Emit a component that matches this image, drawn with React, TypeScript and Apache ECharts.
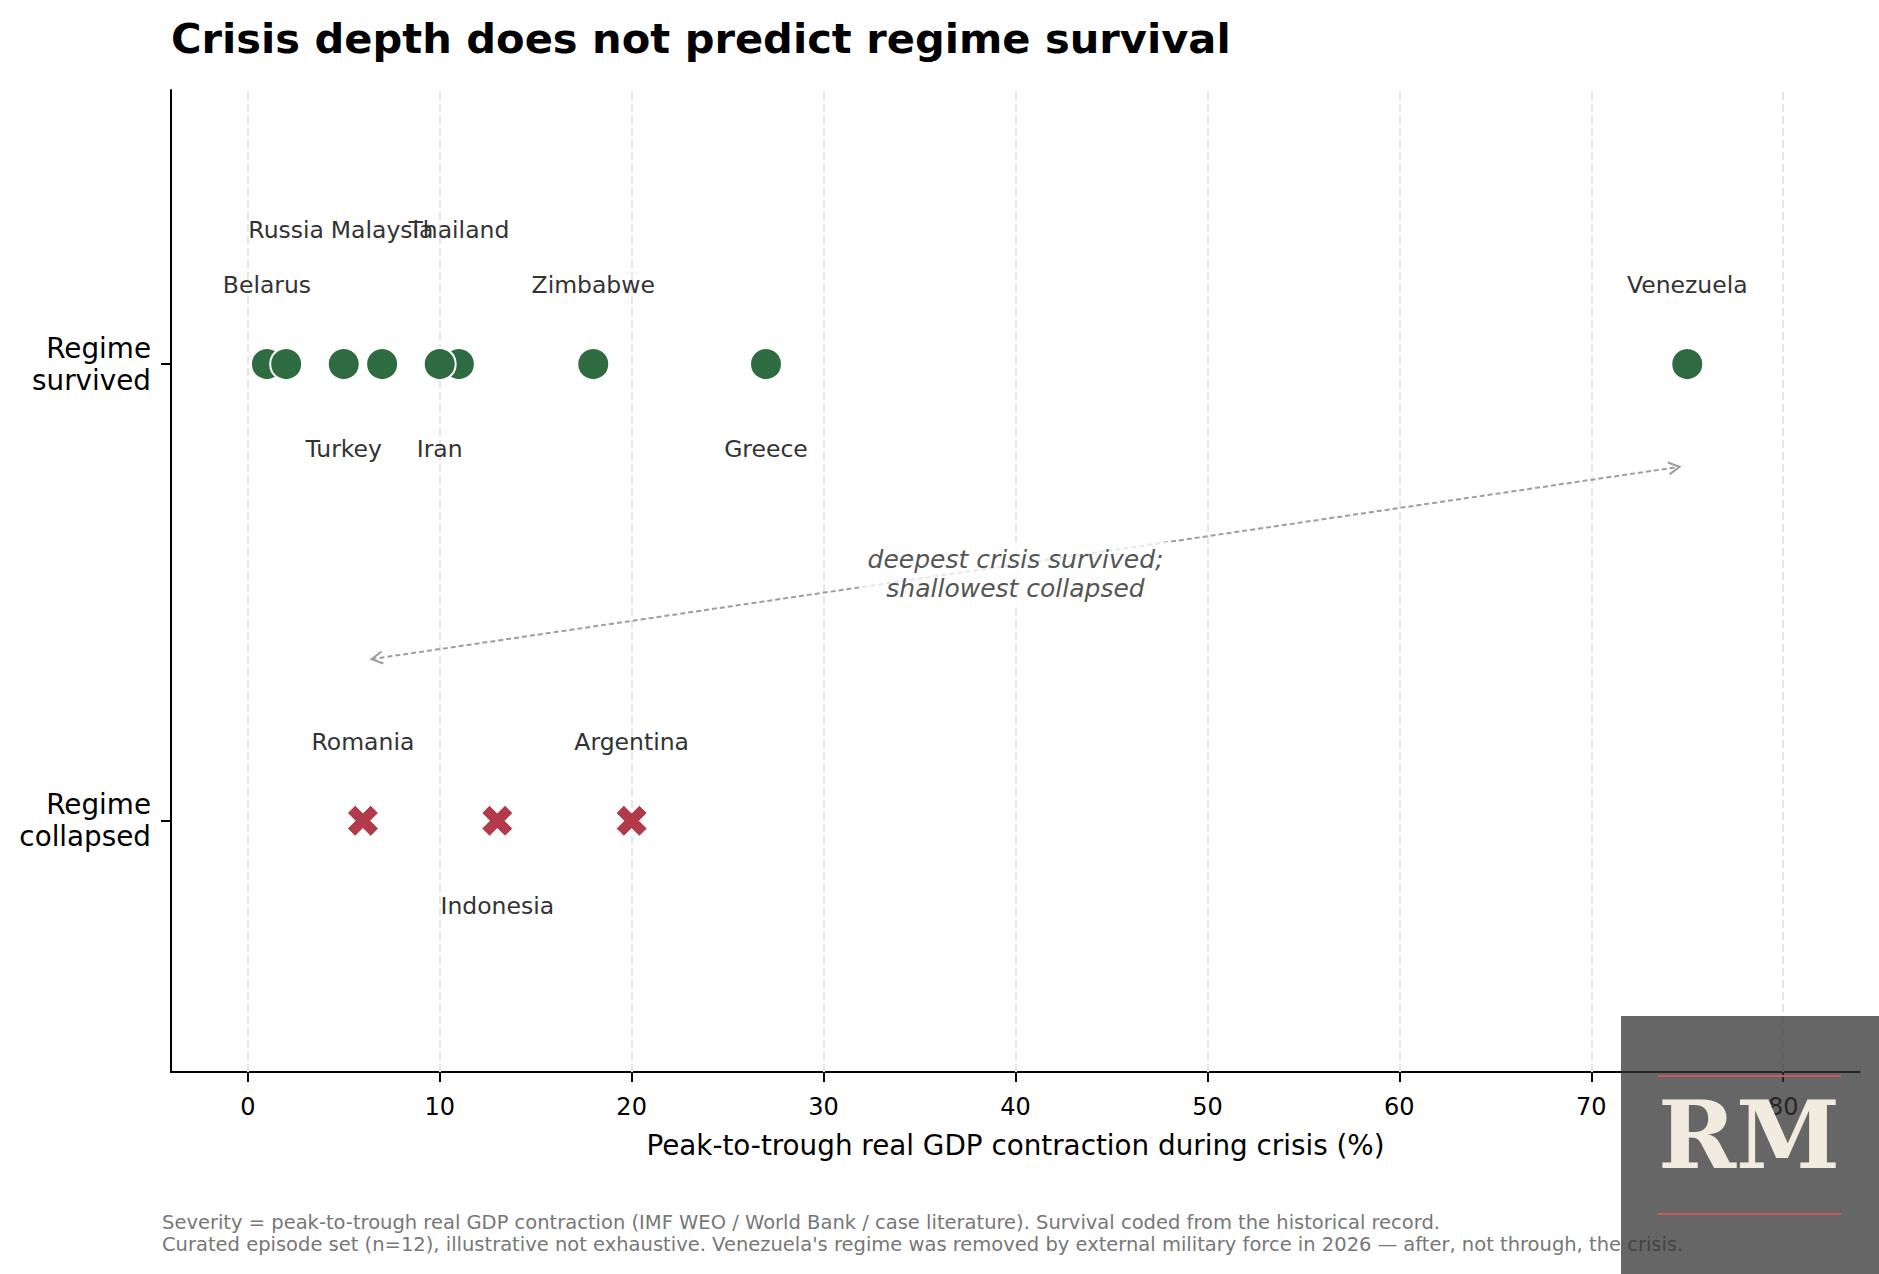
import React, { useEffect, useRef } from 'react';
import * as echarts from 'echarts';

// episodes where the regime survived (draw order as in the source)
const survivedNames = ['Belarus', 'Russia', 'Turkey', 'Malaysia', 'Thailand', 'Iran', 'Zimbabwe', 'Greece', 'Venezuela'];
const survivedDepth = [1, 2, 5, 7, 11, 10, 18, 27, 75];
const survivedLabelRow = ['near', 'far', 'below', 'far', 'far', 'below', 'near', 'below', 'near'];

// episodes where the regime collapsed
const collapsedNames = ['Romania', 'Indonesia', 'Argentina'];
const collapsedDepth = [6, 13, 20];
const collapsedLabelRow = ['near', 'below', 'near'];

const xTicks = [0, 10, 20, 30, 40, 50, 60, 70, 80];
const yTicks = [0, 1];
const yTickLabels = ['Regime\ncollapsed', 'Regime\nsurvived'];

const noteText = 'deepest crisis survived;\nshallowest collapsed';
const footLines = [
  'Severity = peak-to-trough real GDP contraction (IMF WEO / World Bank / case literature). Survival coded from the historical record.',
  "Curated episode set (n=12), illustrative not exhaustive. Venezuela's regime was removed by external military force in 2026 \u2014 after, not through, the crisis.",
];

// annotation anchors (data coords)
const arrowFrom = [6.45, 0.354];
const arrowTo = [74.6, 0.775];
const notePos = [40, 0.541];

const rowOffset: Record<string, number> = { near: -79, far: -134, below: 85 };

const GREEN = '#2e6b40';
const RED = '#b33a4a';
const FONT = 'DejaVu Sans';
const X_PATH = 'path://M1 0L2 1L3 0L4 1L3 2L4 3L3 4L2 3L1 4L0 3L1 2L0 1Z';

const App: React.FC = () => {
  const chartRef = useRef<HTMLDivElement>(null);

  useEffect(() => {
    document.body.style.margin = '0';
    if (!chartRef.current) return;
    const chart = echarts.init(chartRef.current, undefined, { renderer: 'svg' });

    const labelBase = {
      show: true,
      position: 'inside',
      formatter: '{b}',
      fontSize: 23.5,
      fontFamily: FONT,
      color: '#333',
    };

    const option: any = {
      animation: false,
      textStyle: { fontFamily: FONT },
      grid: { left: 171, top: 90, right: 19, bottom: 202, containLabel: false },
      xAxis: {
        type: 'value',
        min: -4,
        max: 84,
        name: 'Peak-to-trough real GDP contraction during crisis (%)',
        nameLocation: 'middle',
        nameGap: 59,
        nameTextStyle: { fontSize: 27.8, color: '#000', fontFamily: FONT },
        axisLine: { show: true, onZero: false, lineStyle: { color: '#000', width: 2 } },
        axisTick: { show: true, customValues: xTicks, length: 10, lineStyle: { color: '#000', width: 2 } },
        axisLabel: { customValues: xTicks, fontSize: 24, color: '#000', margin: 23 },
        splitLine: { show: false },
      },
      yAxis: {
        type: 'value',
        min: -0.55,
        max: 1.6,
        axisLine: { show: true, onZero: false, lineStyle: { color: '#000', width: 2 } },
        axisTick: { show: true, customValues: yTicks, length: 10, lineStyle: { color: '#000', width: 2 } },
        axisLabel: {
          customValues: yTicks,
          formatter: (v: number) => yTickLabels[yTicks.indexOf(v)] ?? '',
          fontSize: 27.8,
          lineHeight: 32,
          color: '#000',
          margin: 20,
          padding: [28, 0, 0, 0],
        },
        splitLine: { show: false },
      },
      series: [
        {
          type: 'line',
          data: [],
          z: 1,
          silent: true,
          markLine: {
            silent: true,
            z: 1,
            symbol: ['none', 'none'],
            label: { show: false },
            lineStyle: { color: '#e6e6e6', width: 2, type: [8, 4] },
            data: xTicks.map((v) => ({ xAxis: v })),
          },
        },
        {
          type: 'custom',
          coordinateSystem: 'cartesian2d',
          silent: true,
          z: 3,
          data: [[0, 0]],
          renderItem: (_p: any, api: any) => {
            const a = api.coord(arrowFrom);
            const b = api.coord(arrowTo);
            const t = api.coord(notePos);
            const dx = b[0] - a[0];
            const dy = b[1] - a[1];
            const len = Math.hypot(dx, dy);
            const ux = dx / len;
            const uy = dy / len;
            const nx = -uy;
            const ny = ux;
            const L = 11;
            const W = 6;
            const head = (p: number[], s: number) => ({
              type: 'polyline',
              shape: {
                points: [
                  [p[0] + s * ux * L + nx * W, p[1] + s * uy * L + ny * W],
                  [p[0], p[1]],
                  [p[0] + s * ux * L - nx * W, p[1] + s * uy * L - ny * W],
                ],
              },
              style: { stroke: '#9e9e9e', lineWidth: 2, fill: null },
            });
            return {
              type: 'group',
              children: [
                {
                  type: 'line',
                  shape: { x1: a[0], y1: a[1], x2: b[0], y2: b[1] },
                  style: { stroke: '#9e9e9e', lineWidth: 2, lineDash: [5, 3] },
                },
                head(a, 1),
                head(b, -1),
                {
                  type: 'text',
                  x: t[0],
                  y: t[1],
                  style: {
                    text: noteText,
                    align: 'center',
                    verticalAlign: 'middle',
                    fontSize: 25,
                    fontStyle: 'italic',
                    fontFamily: FONT,
                    lineHeight: 29,
                    fill: '#555',
                    backgroundColor: 'rgba(255,255,255,0.75)',
                    padding: [3, 8],
                  },
                },
              ],
            };
          },
        },
        {
          type: 'scatter',
          z: 4,
          symbol: 'circle',
          symbolSize: 32,
          itemStyle: { color: GREEN, borderColor: '#fff', borderWidth: 2, opacity: 1 },
          label: labelBase,
          data: survivedDepth.map((x, i) => ({
            name: survivedNames[i],
            value: [x, 1],
            label: { offset: [0, rowOffset[survivedLabelRow[i]]] },
          })),
        },
        {
          type: 'scatter',
          z: 4,
          symbol: X_PATH,
          symbolSize: 31,
          itemStyle: { color: RED, borderColor: '#fff', borderWidth: 1, opacity: 1 },
          label: labelBase,
          data: collapsedDepth.map((x, i) => ({
            name: collapsedNames[i],
            value: [x, 0],
            label: { offset: [0, rowOffset[collapsedLabelRow[i]]] },
          })),
        },
      ],
      graphic: [
        {
          type: 'text',
          left: 171,
          top: 17,
          style: {
            text: 'Crisis depth does not predict regime survival',
            fontSize: 41.6,
            fontWeight: 'bold',
            fontFamily: FONT,
            fill: '#000',
          },
        },
        ...footLines.map((line, i) => ({
          type: 'text',
          x: 162,
          y: 1222 + i * 22,
          style: {
            text: line,
            fontSize: 19.5,
            fontFamily: FONT,
            fill: '#777',
            verticalAlign: 'middle',
          },
        })),
        {
          type: 'rect',
          z: 100,
          shape: { x: 1621, y: 1016, width: 258, height: 258 },
          style: { fill: 'rgba(51,51,51,0.75)' },
        },
        {
          type: 'line',
          z: 101,
          shape: { x1: 1658, y1: 1076, x2: 1841, y2: 1076 },
          style: { stroke: '#c75b5b', lineWidth: 2 },
        },
        {
          type: 'line',
          z: 101,
          shape: { x1: 1658, y1: 1214, x2: 1841, y2: 1214 },
          style: { stroke: '#c75b5b', lineWidth: 2 },
        },
        {
          type: 'text',
          z: 101,
          x: 1749,
          y: 1135,
          style: {
            text: 'RM',
            fontSize: 94,
            fontWeight: 'bold',
            fontFamily: 'DejaVu Serif',
            fill: '#f2ebe0',
            align: 'center',
            verticalAlign: 'middle',
          },
        },
      ],
    };

    chart.setOption(option);
    return () => {
      chart.dispose();
    };
  }, []);

  return <div ref={chartRef} style={{ width: 1879, height: 1274 }} />;
};

export default App;
